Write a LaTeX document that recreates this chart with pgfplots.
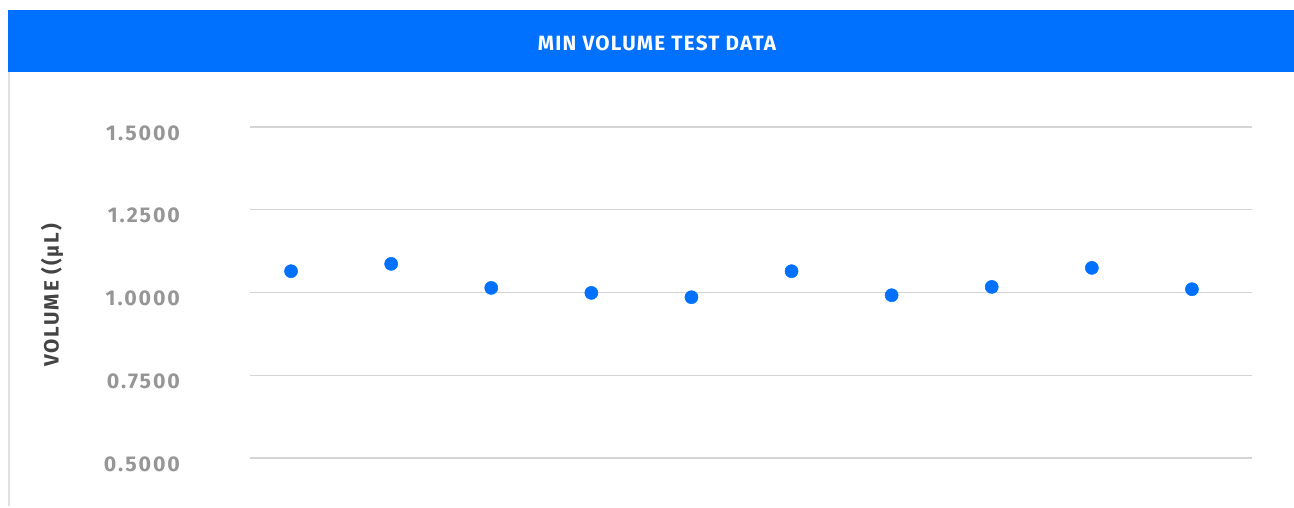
\documentclass[border=0pt]{standalone}
\usepackage{fontspec}
\setmainfont{Fira Sans}
\usepackage{pgfplots}
\pgfplotsset{compat=1.18}
\definecolor{hdrblue}{RGB}{0,112,255}
\definecolor{tickgray}{RGB}{150,150,150}
\definecolor{labgray}{RGB}{68,68,68}
\definecolor{gridgray}{RGB}{212,212,212}
\definecolor{bordergray}{RGB}{225,225,225}
\begin{document}
\begin{tikzpicture}[x=0.75pt,y=-0.75pt]
\path[fill=white] (0,0) rectangle (1294,506);
\fill[hdrblue] (8,10) rectangle (1294,72);
\draw[bordergray,line width=1.5pt] (9,72) -- (9,506);
\node[text=white,font=\fontsize{15.5pt}{18pt}\selectfont\bfseries\addfontfeatures{LetterSpace=6}] at (657,43) {MIN VOLUME TEST DATA};
\begin{axis}[
  at={(187.5pt,-343.5pt)}, anchor=south west,
  scale only axis,
  width=751.5pt, height=248.25pt,
  xmin=-0.41, xmax=9.6,
  ymin=0.5, ymax=1.5,
  ytick={0.5,0.75,1,1.25,1.5},
  xtick=\empty,
  axis line style={draw=none},
  major tick length=0pt,
  ymajorgrids,
  grid style={gridgray, line width=1.1pt},
  yticklabel style={
    /pgf/number format/.cd, fixed, fixed zerofill, precision=4, assume math mode=true,
    /tikz/.cd, text=tickgray, font=\fontsize{16pt}{19pt}\selectfont\bfseries\addfontfeatures{LetterSpace=9}, anchor=east, xshift=-49pt, yshift=-4.5pt},
  ylabel={VOLUME ((µL)},
  ylabel style={at={(axis description cs:-0.1976,0.491)}, anchor=center, text=labgray, font=\fontsize{15.5pt}{18pt}\selectfont\bfseries\addfontfeatures{LetterSpace=9}},
  clip=false,
]
\addplot[only marks, mark=*, mark size=4.9pt, mark options={draw=hdrblue, fill=hdrblue}] coordinates {
  (0,1.0644) (1,1.0865) (2,1.0139) (3,0.9988) (4,0.9858)
  (5,1.0644) (6,0.9918) (7,1.0169) (8,1.0744) (9,1.0100)
};
\end{axis}
\end{tikzpicture}
\end{document}
